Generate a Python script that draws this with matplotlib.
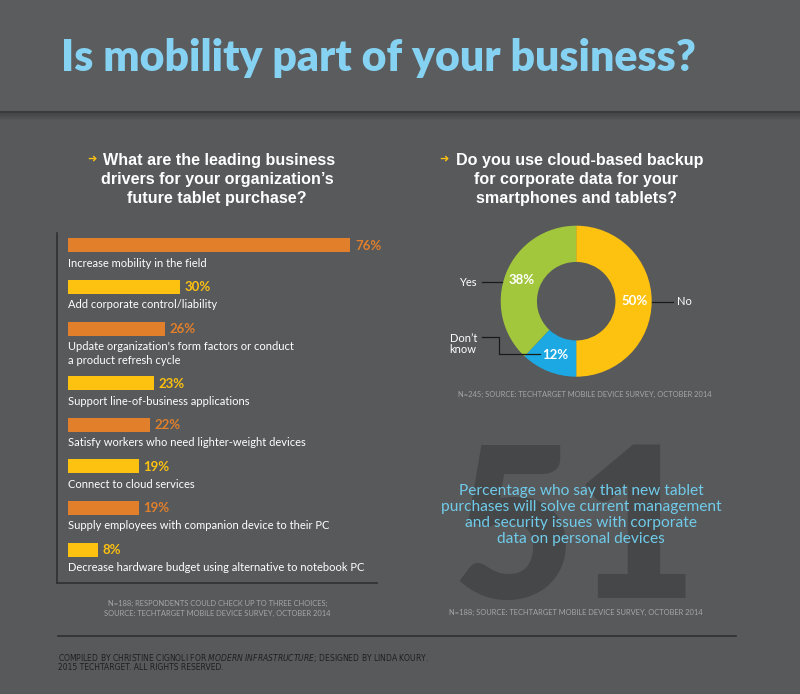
import matplotlib
matplotlib.use("Agg")
import matplotlib.pyplot as plt
import numpy as np

# ---- data ----
drivers = [
    "Increase mobility in the field",
    "Add corporate control/liability",
    "Update organization's form factors or conduct\na product refresh cycle",
    "Support line-of-business applications",
    "Satisfy workers who need lighter-weight devices",
    "Connect to cloud services",
    "Supply employees with companion device to their PC",
    "Decrease hardware budget using alternative to notebook PC",
]
driver_pct = [76, 30, 26, 23, 22, 19, 19, 8]

backup_labels = ["No", "Don't know", "Yes"]
backup_pct = [50, 12, 38]

big_number = "51"
big_text = ("Percentage who say that new tablet\npurchases will solve current management\n"
            "and security issues with corporate\ndata on personal devices")

# ---- style ----
BG = "#58595b"
HEAD = "#5b5c5e"
ORANGE = "#e17f2a"
YELLOW = "#fdc20f"
GREEN = "#a2c73c"
BLUE = "#1ca8e2"
TITLE_BLUE = "#86d2f2"
NOTE = "#a4a6a8"
W, H = 800, 694

fig = plt.figure(figsize=(8, 6.94), dpi=100, facecolor=BG)

# overlay axes in pixel coords
ov = fig.add_axes([0, 0, 1, 1], zorder=0)
ov.set_xlim(0, W)
ov.set_ylim(H, 0)
ov.axis("off")
ov.add_patch(plt.Rectangle((0, 0), W, 112, color=HEAD, zorder=0))
for i, a in enumerate(np.linspace(0.35, 0.0, 8)):
    ov.plot([0, W], [113 + i, 113 + i], color="#2f3032", alpha=a, lw=1, zorder=1)
ov.plot([0, W], [112, 112], color="#3a3b3d", lw=1.5, zorder=2)

ov.text(61, 58, "Is mobility part of your business?", fontsize=30.8, fontweight="heavy",
        family=["Lato", "DejaVu Sans"], color=TITLE_BLUE, va="center", ha="left")

sub_font = dict(fontsize=11.6, fontweight="bold", color="white",
                family=["Liberation Sans Narrow", "Liberation Sans", "DejaVu Sans"], va="center")
ov.text(92, 159, "➜", color=YELLOW, fontsize=8, va="center", ha="center", family="DejaVu Sans")
ov.text(103, 160, "What are the leading business", ha="left", **sub_font)
ov.text(217, 179.5, "drivers for your organization’s", ha="center", **sub_font)
ov.text(217, 198.5, "future tablet purchase?", ha="center", **sub_font)

ov.text(444, 159, "➜", color=YELLOW, fontsize=8, va="center", ha="center", family="DejaVu Sans")
ov.text(456, 160, "Do you use cloud-based backup", ha="left", **sub_font)
ov.text(576, 179.5, "for corporate data for your", ha="center", **sub_font)
ov.text(576, 198.5, "smartphones and tablets?", ha="center", **sub_font)

note_font = dict(fontsize=5.45, color=NOTE, family=["Lato", "DejaVu Sans"], ha="center", va="center")
ov.text(217.5, 603, "N=188; RESPONDENTS COULD CHECK UP TO THREE CHOICES;", **note_font)
ov.text(217.5, 613, "SOURCE: TECHTARGET MOBILE DEVICE SURVEY, OCTOBER 2014", **note_font)
ov.text(584.7, 394.3, "N=245; SOURCE: TECHTARGET MOBILE DEVICE SURVEY, OCTOBER 2014", **note_font)
ov.text(575.6, 612.7, "N=188; SOURCE: TECHTARGET MOBILE DEVICE SURVEY, OCTOBER 2014", **note_font)

# big 51
ov.text(575, 598, big_number, fontsize=152, fontweight="heavy", color="#464749",
        family=["Lato", "DejaVu Sans"], ha="center", va="baseline", zorder=1)
ov.text(581, 515, big_text, fontsize=11.2, color="#70cbea", family=["Lato", "DejaVu Sans"],
        ha="center", va="center", linespacing=1.2, zorder=3)

# footer
ov.plot([57.7, 735.7], [636, 636], color="#2e2f31", lw=1.2)
foot = dict(fontsize=5.5, color="#1e1f20", family=["Liberation Sans Narrow", "DejaVu Sans"],
            ha="left", va="center")
ov.text(57.7, 658, "COMPILED BY CHRISTINE CIGNOLI FOR $\\it{MODERN\\ INFRASTRUCTURE}$; DESIGNED BY LINDA KOURY.", **foot)
ov.text(57.7, 667, "2015 TECHTARGET. ALL RIGHTS RESERVED.", **foot)

# ---- bar chart ----
px_per_pct = 3.71
x0, x1, ytop, ybot = 57.3, 377, 233, 582.7
bx = fig.add_axes([x0 / W, 1 - ybot / H, (x1 - x0) / W, (ybot - ytop) / H], zorder=2)
bx.patch.set_alpha(0)
bx.set_xlim(-(68.3 - x0) / px_per_pct, (x1 - 68.3) / px_per_pct)
bx.set_ylim(ybot, ytop)
ypos = []
y = 245.3
for i, lab in enumerate(drivers):
    ypos.append(y)
    y += 41.6 + (13 if "\n" in lab else 0)
colors = [ORANGE if i % 2 == 0 else YELLOW for i in range(len(drivers))]
bx.barh(ypos, driver_pct, height=14, color=colors, left=0)
for yy, v, lab, c in zip(ypos, driver_pct, drivers, colors):
    bx.text(v + 1.3, yy + 0.5, f"{v}%", color=c, fontsize=9.5, fontweight="bold",
            family=["Lato", "DejaVu Sans"], va="center", ha="left")
    bx.text(0, yy + 12.5, lab, color="white", fontsize=8.05, family=["Lato", "DejaVu Sans"],
            va="top", ha="left", linespacing=1.3)
for s in ["top", "right"]:
    bx.spines[s].set_visible(False)
for s in ["left", "bottom"]:
    bx.spines[s].set_color("#2f3032")
    bx.spines[s].set_linewidth(1.2)
bx.set_xticks([])
bx.set_yticks([])

# ---- donut ----
cx, cy, r = 576.2, 301.2, 75.5
half = 100
dx = fig.add_axes([(cx - half) / W, 1 - (cy + half) / H, 2 * half / W, 2 * half / H], zorder=2)
dx.axis("off")
wedges, _, autotexts = dx.pie(backup_pct, colors=[YELLOW, BLUE, GREEN], startangle=90,
                              counterclock=False, radius=1, autopct="%d%%", pctdistance=0.77,
                              wedgeprops=dict(width=0.48, linewidth=0))
dx.set_xlim(-half / r, half / r)
dx.set_ylim(-half / r, half / r)
for t in autotexts:
    t.set_color("white")
    t.set_fontsize(9.5)
    t.set_fontweight("bold")
    t.set_family(["Lato", "DejaVu Sans"])

def P(px, py):
    return (px - cx) / r, (cy - py) / r

lab_font = dict(color="white", fontsize=8, family=["Lato", "DejaVu Sans"], va="center")
# No
(a, b), (c, d) = P(652.3, 301.7), P(673.3, 301.7)
dx.plot([a, c], [b, d], color="#1a1a1a", lw=0.9)
dx.text(*P(676.7, 301), backup_labels[0], ha="left", **lab_font)
# Yes
(a, b), (c, d) = P(481.7, 282.3), P(501.7, 282.3)
dx.plot([a, c], [b, d], color="#1a1a1a", lw=0.9)
dx.text(*P(476.7, 282.3), backup_labels[2], ha="right", **lab_font)
# Don't know
pts = [P(481.7, 337.3), P(499, 337.3), P(499, 354), P(540, 354)]
dx.plot([p[0] for p in pts], [p[1] for p in pts], color="#1a1a1a", lw=0.9)
dx.text(*P(477, 343.8), "Don’t\nknow", ha="right", multialignment="left", linespacing=1.0, **lab_font)
for ch in dx.get_children():
    ch.set_clip_on(False)

fig.savefig("out.png", dpi=100, facecolor=BG)
